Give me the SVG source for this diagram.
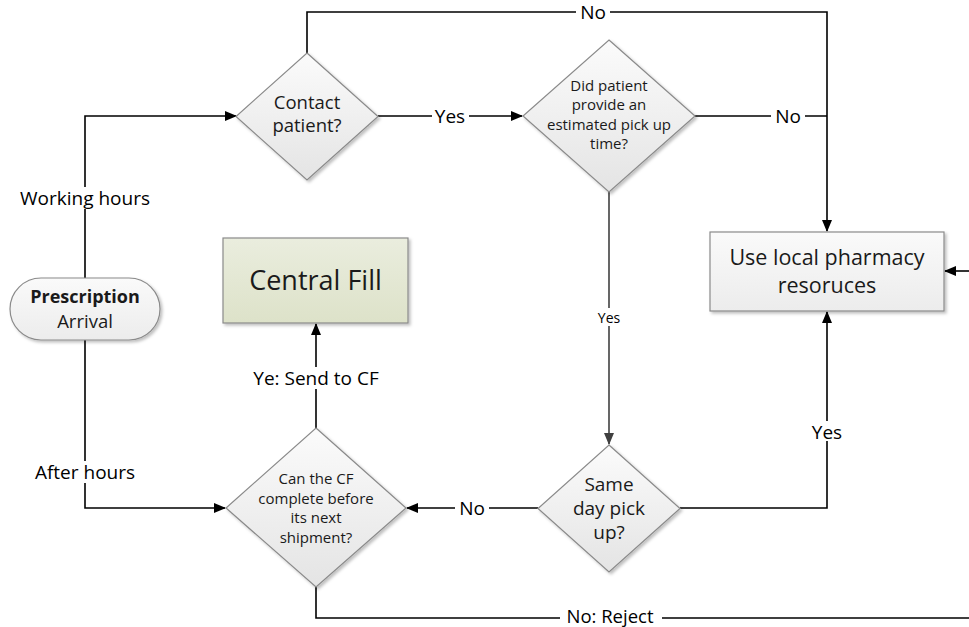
<svg xmlns="http://www.w3.org/2000/svg" width="969" height="627" viewBox="0 0 969 627">
<style>
.t{font-family:"Open Sans","Liberation Sans",sans-serif;fill:#1a1a1a;text-anchor:middle}
.ln{fill:none;stroke:#000;stroke-width:1.6}
.dia{fill:url(#dg);stroke:#8a8a8a;stroke-width:1.2;filter:url(#sh)}
.lbl{font-family:"Open Sans","Liberation Sans",sans-serif;fill:#000;text-anchor:middle;font-size:19px}
.bg{fill:#fff}
</style>
<defs>
<linearGradient id="dg" x1="0" y1="0" x2="0" y2="1">
<stop offset="0" stop-color="#fbfbfb"/><stop offset="1" stop-color="#e4e4e4"/>
</linearGradient>
<linearGradient id="bg2" x1="0" y1="0" x2="0" y2="1">
<stop offset="0" stop-color="#fafafa"/><stop offset="1" stop-color="#ececec"/>
</linearGradient>
<linearGradient id="cf" x1="0" y1="0" x2="0" y2="1">
<stop offset="0" stop-color="#eaedde"/><stop offset="1" stop-color="#dde2c9"/>
</linearGradient>
<filter id="sh" x="-10%" y="-10%" width="130%" height="130%">
<feDropShadow dx="2" dy="2" stdDeviation="1.5" flood-color="#000" flood-opacity="0.25"/>
</filter>
<marker id="ar" markerWidth="12" markerHeight="10" refX="11" refY="5" orient="auto" markerUnits="userSpaceOnUse">
<path d="M0,0 L12,5 L0,10 Z" fill="#000"/>
</marker>
<marker id="arg" markerWidth="12" markerHeight="10" refX="11" refY="5" orient="auto" markerUnits="userSpaceOnUse">
<path d="M0,0 L12,5 L0,10 Z" fill="#404040"/>
</marker>
</defs>
<rect width="969" height="627" fill="#fff"/>

<g id="connectors">
<path class="ln" d="M85,278 V116 H236" marker-end="url(#ar)"/>
<path class="ln" d="M378,116 H522" marker-end="url(#ar)"/>
<path class="ln" d="M307,53 V12 H827 V231" marker-end="url(#ar)"/>
<path class="ln" d="M695,116 H827"/>
<path class="ln" d="M609,192 V444" style="stroke:#404040" marker-end="url(#arg)"/>
<path class="ln" d="M680,508 H827 V312" marker-end="url(#ar)"/>
<path class="ln" d="M538,508 H407" marker-end="url(#ar)"/>
<path class="ln" d="M85,340 V508 H225" marker-end="url(#ar)"/>
<path class="ln" d="M316,428 V324" marker-end="url(#ar)"/>
<path class="ln" d="M316,587 V618 H969"/>
<path class="ln" d="M969,271 H945" marker-end="url(#ar)"/>
<g id="labels">
<rect class="bg" x="576" y="2" width="34" height="20"/><text class="lbl" x="593" y="19">No</text>
<rect class="bg" x="432" y="106" width="37" height="20"/><text class="lbl" x="450" y="123">Yes</text>
<rect class="bg" x="771" y="106" width="34" height="20"/><text class="lbl" x="788" y="123">No</text>
<rect class="bg" x="594" y="308" width="30" height="18"/><text class="lbl" x="609" y="323" style="font-size:14px">Yes</text>
<rect class="bg" x="808" y="421" width="38" height="20"/><text class="lbl" x="827" y="439">Yes</text>
<rect class="bg" x="455" y="498" width="34" height="20"/><text class="lbl" x="472" y="515">No</text>
<rect class="bg" x="14" y="187" width="142" height="22"/><text class="lbl" x="85" y="205">Working hours</text>
<rect class="bg" x="30" y="461" width="110" height="22"/><text class="lbl" x="85" y="479">After hours</text>
<rect class="bg" x="246" y="367" width="140" height="22"/><text class="lbl" x="316" y="385">Ye: Send to CF</text>
<rect class="bg" x="560" y="608" width="102" height="19"/><text class="lbl" x="610" y="623" style="font-size:18.5px">No: Reject</text>
</g>
</g>

<g id="n-prescription">
<rect x="10" y="278" width="150" height="62" rx="31" ry="31" fill="url(#bg2)" stroke="#8a8a8a" stroke-width="1.2" filter="url(#sh)"/>
<text class="t" x="85" y="303" style="font-size:18px"><tspan x="85" style="font-weight:bold">Prescription</tspan><tspan x="85" dy="25" style="font-size:18.5px">Arrival</tspan></text>
</g>

<g id="n-contact">
<polygon class="dia" points="307,53 378,116.5 307,180 236,116.5"/>
<text class="t" x="307" y="109" style="font-size:18.5px"><tspan x="307">Contact</tspan><tspan x="307" dy="23">patient?</tspan></text>
</g>

<g id="n-estimate">
<polygon class="dia" points="609,40 695,116 609,192 523,116"/>
<text class="t" x="609" y="90.5" style="font-size:15px"><tspan x="609">Did patient</tspan><tspan x="609" dy="19.5">provide an</tspan><tspan x="609" dy="19.5">estimated pick up</tspan><tspan x="609" dy="19.5">time?</tspan></text>
</g>

<g id="n-local">
<rect x="710" y="232" width="234" height="79" fill="url(#bg2)" stroke="#8a8a8a" stroke-width="1.2" filter="url(#sh)"/>
<text class="t" x="827" y="264.5" style="font-size:21.5px"><tspan x="827">Use local pharmacy</tspan><tspan x="827" dy="28">resoruces</tspan></text>
</g>

<g id="n-central">
<rect x="223" y="238" width="185" height="85" fill="url(#cf)" stroke="#8a8a8a" stroke-width="1.2" filter="url(#sh)"/>
<text class="t" x="315.5" y="290" style="font-size:27px">Central Fill</text>
</g>

<g id="n-cancf">
<polygon class="dia" points="316,428 406,508 316,587 226,508"/>
<text class="t" x="316" y="484" style="font-size:15px"><tspan x="316">Can the CF</tspan><tspan x="316" dy="19.5">complete before</tspan><tspan x="316" dy="19.5">its next</tspan><tspan x="316" dy="19.5">shipment?</tspan></text>
</g>

<g id="n-sameday">
<polygon class="dia" points="609,445 680,508.5 609,572 538,508.5"/>
<text class="t" x="609" y="491" style="font-size:19px"><tspan x="609">Same</tspan><tspan x="609" dy="24">day pick</tspan><tspan x="609" dy="24">up?</tspan></text>
</g>
</svg>
